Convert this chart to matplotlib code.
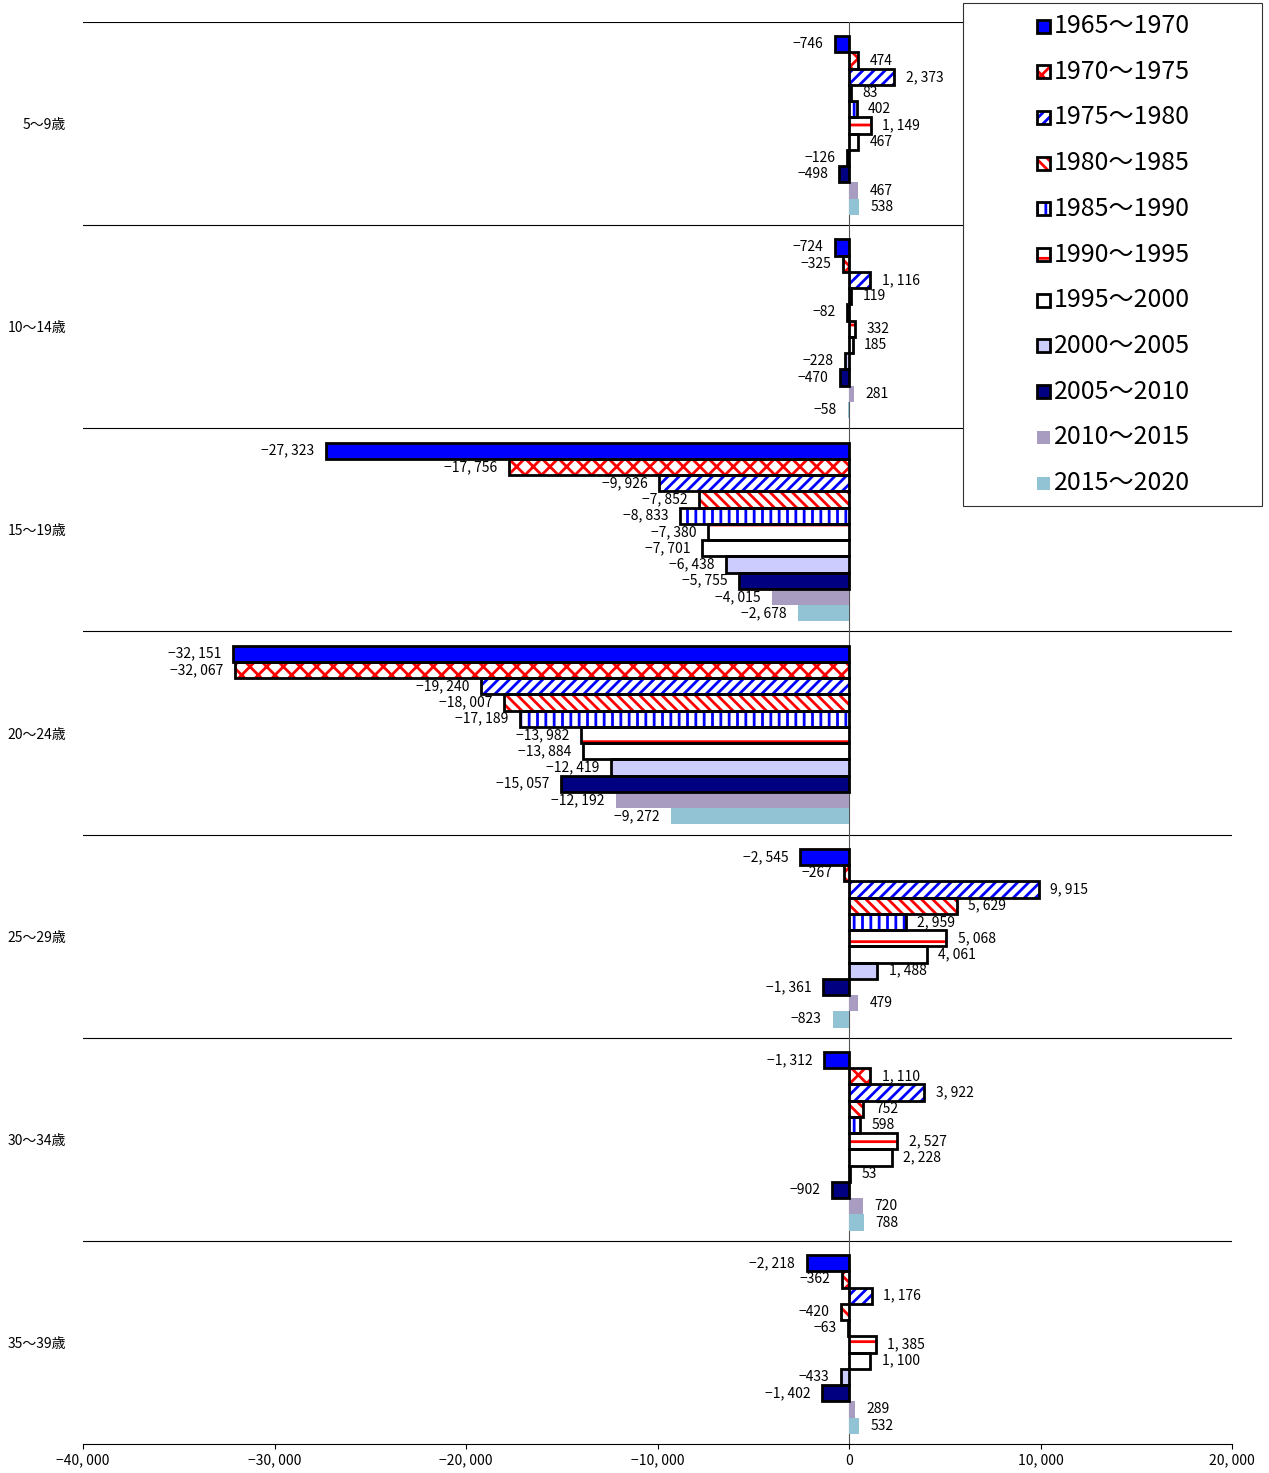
import matplotlib
matplotlib.use("Agg")
import matplotlib.pyplot as plt
from matplotlib.patches import Rectangle
import numpy as np

plt.rcParams['font.family'] = ['Noto Sans CJK JP', 'DejaVu Sans']
plt.rcParams['hatch.linewidth'] = 2.0

categories = ["5～9歳", "10～14歳", "15～19歳", "20～24歳", "25～29歳", "30～34歳", "35～39歳"]
periods = ["1965～1970", "1970～1975", "1975～1980", "1980～1985", "1985～1990", "1990～1995",
           "1995～2000", "2000～2005", "2005～2010", "2010～2015", "2015～2020"]
values = [
    [-746, 474, 2373, 83, 402, 1149, 467, -126, -498, 467, 538],
    [-724, -325, 1116, 119, -82, 332, 185, -228, -470, 281, -58],
    [-27323, -17756, -9926, -7852, -8833, -7380, -7701, -6438, -5755, -4015, -2678],
    [-32151, -32067, -19240, -18007, -17189, -13982, -13884, -12419, -15057, -12192, -9272],
    [-2545, -267, 9915, 5629, 2959, 5068, 4061, 1488, -1361, 479, -823],
    [-1312, 1110, 3922, 752, 598, 2527, 2228, 53, -902, 720, 788],
    [-2218, -362, 1176, -420, -63, 1385, 1100, -433, -1402, 289, 532],
]

# (face, hatch, hatch colour, black edge)
styles = [
    ("#0000FF", None, None, True),
    ("white", "xx", "#FF0000", True),
    ("white", "///", "#0000FF", True),
    ("white", "\\\\\\", "#FF0000", True),
    ("white", "||", "#0000FF", True),
    ("white", "-", "#FF0000", True),
    ("white", None, None, True),
    ("#CCCCFF", None, None, True),
    ("#000080", None, None, True),
    ("#A89CC0", None, None, False),
    ("#92C3D4", None, None, False),
]

W, H = 1269, 1473
fig = plt.figure(figsize=(W/100, H/100), dpi=100)
ax = fig.add_axes([83/W, 1 - 1444/H, (1232-83)/W, (1444-22)/H])

bh = 0.08
def fmt(v):
    s = "{:,}".format(abs(v)).replace(",", ", ")
    return ("−" + s) if v < 0 else s

for g, row in enumerate(values):
    for i, v in enumerate(row):
        y = g + 0.07 + (i + 0.5) * bh
        face, hatch, hc, edge = styles[i]
        ax.barh(y, v, height=bh, color=face, edgecolor=hc if hatch else face,
                hatch=hatch, linewidth=0, zorder=2)
        if edge:
            ax.barh(y, v, height=bh, fill=False, edgecolor="black", linewidth=2, zorder=3)
        if v < 0:
            ax.text(v - 600, y, fmt(v), ha="right", va="center", fontsize=10, zorder=4)
        else:
            ax.text(v + 600, y, fmt(v), ha="left", va="center", fontsize=10, zorder=4)

ax.set_ylim(len(categories), 0)
ax.set_xlim(-40000, 20000)
for g in range(len(categories)):
    ax.axhline(g, color="black", linewidth=0.8, zorder=1)
ax.axvline(0, color="#555555", linewidth=0.8, zorder=1)
ax.set_yticks(np.arange(len(categories)) + 0.5)
ax.set_yticklabels(categories, fontsize=10)
ax.tick_params(axis="y", length=0, pad=12)
xt = [-40000, -30000, -20000, -10000, 0, 10000, 20000]
ax.set_xticks(xt)
ax.set_xticklabels([fmt(t) if t != 0 else "0" for t in xt], fontsize=10)
for s in ["top", "right", "left"]:
    ax.spines[s].set_visible(False)

# manual legend
def fx(px): return px / W
def fy(py): return 1 - py / H
fig.patches.append(Rectangle((fx(963), fy(506)), fx(1262) - fx(963), fy(3) - fy(506),
                             transform=fig.transFigure, facecolor="white", edgecolor="#333333",
                             linewidth=0.8, zorder=5))
for i, (lab, (face, hatch, hc, edge)) in enumerate(zip(periods, styles)):
    yc = 26 + i * 45.7
    x0, s = 1037, 13
    fig.patches.append(Rectangle((fx(x0), fy(yc + s/2)), fx(s), s / H, transform=fig.transFigure,
                                 facecolor=face, edgecolor=hc if hatch else face, hatch=hatch,
                                 linewidth=0, zorder=6))
    if edge:
        fig.patches.append(Rectangle((fx(x0), fy(yc + s/2)), fx(s), s / H, transform=fig.transFigure,
                                     fill=False, edgecolor="black", linewidth=2, zorder=7))
    fig.text(fx(1054), fy(yc), lab, fontsize=18, ha="left", va="center", zorder=8)

fig.savefig("out.png", dpi=100)
